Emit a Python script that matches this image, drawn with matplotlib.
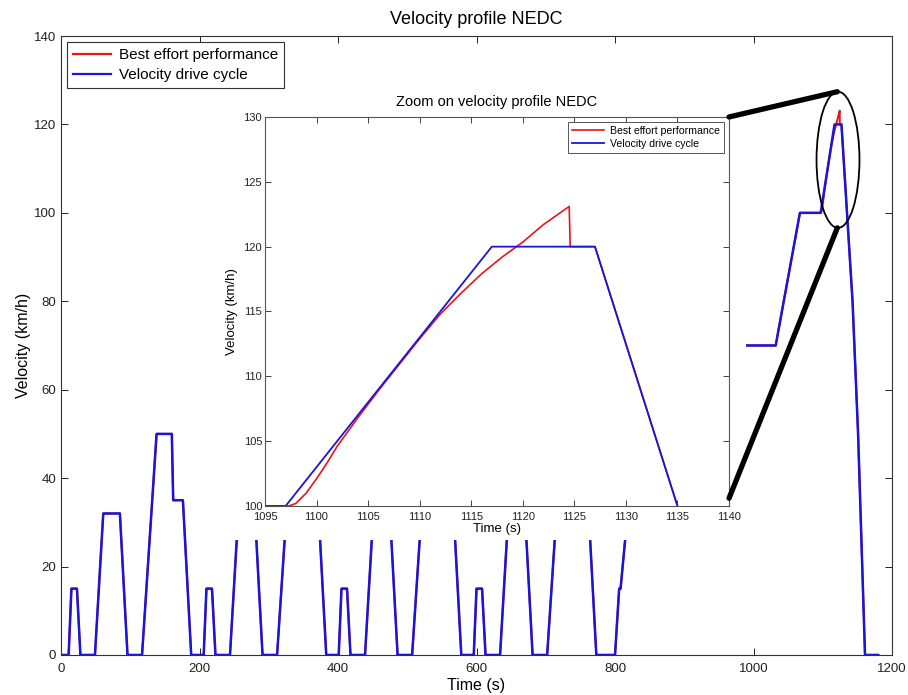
import numpy as np
import matplotlib.pyplot as plt
from matplotlib.patches import Ellipse, Rectangle, ConnectionPatch

plt.rcParams['font.family'] = ['Liberation Sans', 'DejaVu Sans']

# NEDC drive cycle breakpoints (time s, speed km/h)
ece_t = [0, 11, 15, 23, 28, 49, 61, 85, 96, 117, 138, 160, 162, 176, 188, 195]
ece_v = [0, 0, 15, 15, 0, 0, 32, 32, 0, 0, 50, 50, 35, 35, 0, 0]
ece_starts = [0, 195, 390, 585]

eudc_t = [800, 806, 808, 841, 891, 899, 968, 981, 1032, 1067, 1097,
          1117, 1127, 1135, 1143, 1151, 1161, 1180]
eudc_v = [0, 15, 15, 70, 70, 50, 50, 70, 70, 100, 100,
          120, 120, 100, 80, 50, 0, 0]

# best effort performance around the top-speed section
best_t = [1097.3, 1098, 1099, 1100, 1101, 1102, 1104, 1106, 1108, 1110,
          1112, 1114, 1116, 1118, 1120, 1122, 1124.5, 1124.6]
best_v = [100.0, 100.2, 101.0, 102.1, 103.3, 104.6, 106.8, 108.9, 110.9,
          112.9, 114.8, 116.4, 117.9, 119.2, 120.35, 121.7, 123.1, 120.0]

drive_t = np.concatenate([np.array(ece_t) + s for s in ece_starts] + [eudc_t])
drive_v = np.concatenate([ece_v] * len(ece_starts) + [eudc_v])

before = drive_t < best_t[0]
after = drive_t > best_t[-1]
best_full_t = np.concatenate([drive_t[before], best_t, drive_t[after]])
best_full_v = np.concatenate([drive_v[before], best_v, drive_v[after]])

red = '#e8141c'
blue = '#1c14d8'

fig = plt.figure(figsize=(9.08, 6.95), dpi=100)
ax = fig.add_axes([0.0672, 0.0576, 0.9152, 0.8906])
ax.plot(best_full_t, best_full_v, color=red, lw=1.4, label='Best effort performance')
ax.plot(drive_t, drive_v, color=blue, lw=1.8, label='Velocity drive cycle')
ax.set_xlim(0, 1200)
ax.set_ylim(0, 140)
ax.set_xticks(range(0, 1201, 200))
ax.set_yticks(range(0, 141, 20))
ax.tick_params(direction='in', top=True, right=True, length=5, width=0.7,
               labelsize=9.5, colors='#222222')
ax.tick_params(axis='x', pad=6)
for s in ax.spines.values():
    s.set_linewidth(0.8)
    s.set_color('#333333')
ax.set_title('Velocity profile NEDC', fontsize=13, pad=9)
ax.set_xlabel('Time (s)', fontsize=11.5, labelpad=2)
ax.set_ylabel('Velocity (km/h)', fontsize=11.5, labelpad=2)
leg = ax.legend(loc='upper left', fontsize=11, fancybox=False, framealpha=1,
                edgecolor='#333333', handlelength=2.5, borderpad=0.4,
                labelspacing=0.4, borderaxespad=0.4, handletextpad=0.5)
leg.get_frame().set_linewidth(0.8)
for h in leg.get_lines():
    h.set_linewidth(1.6)

# white area that the zoom panel sits on
ax.add_patch(Rectangle((215 / 908, 1 - 540 / 695), (746 - 215) / 908, (540 - 90) / 695,
                       transform=fig.transFigure, facecolor='white',
                       edgecolor='none', zorder=10, clip_on=False))

ax.add_patch(Ellipse((1122, 112), 62, 30.8, fill=False, edgecolor='black',
                     lw=1.3, zorder=11))

# zoom panel
ins = fig.add_axes([0.2918, 0.2719, 0.5111, 0.5598])
ins.plot(best_full_t, best_full_v, color=red, lw=1.2,
         label='Best effort performance')
ins.plot(drive_t, drive_v, color=blue, lw=1.3, label='Velocity drive cycle')
ins.set_xlim(1095, 1140)
ins.set_ylim(100, 130)
ins.set_xticks(range(1095, 1141, 5))
ins.set_yticks(range(100, 131, 5))
ins.tick_params(direction='in', top=True, right=True, length=4, width=0.6,
                labelsize=8, pad=2, colors='#222222')
ins.tick_params(axis='x', pad=4)
for s in ins.spines.values():
    s.set_linewidth(0.8)
    s.set_color('#555555')
ins.set_title('Zoom on velocity profile NEDC', fontsize=10.5, pad=8)
ins.set_xlabel('Time (s)', fontsize=9.5, labelpad=1)
ins.set_ylabel('Velocity (km/h)', fontsize=9.5, labelpad=4)
leg2 = ins.legend(loc='upper right', fontsize=7.6, fancybox=False, framealpha=1,
                  edgecolor='#555555', handlelength=3.0, borderpad=0.4,
                  labelspacing=0.3, borderaxespad=0.45, handletextpad=0.6)
leg2.get_frame().set_linewidth(0.7)

for ya, yb in [(130, 127.4), (100.6, 96.6)]:
    con = ConnectionPatch(xyA=(1140, ya), coordsA=ins.transData,
                          xyB=(1121, yb), coordsB=ax.transData,
                          color='black', lw=3.8, zorder=12)
    fig.add_artist(con)

fig.savefig('out.png', dpi=100)
